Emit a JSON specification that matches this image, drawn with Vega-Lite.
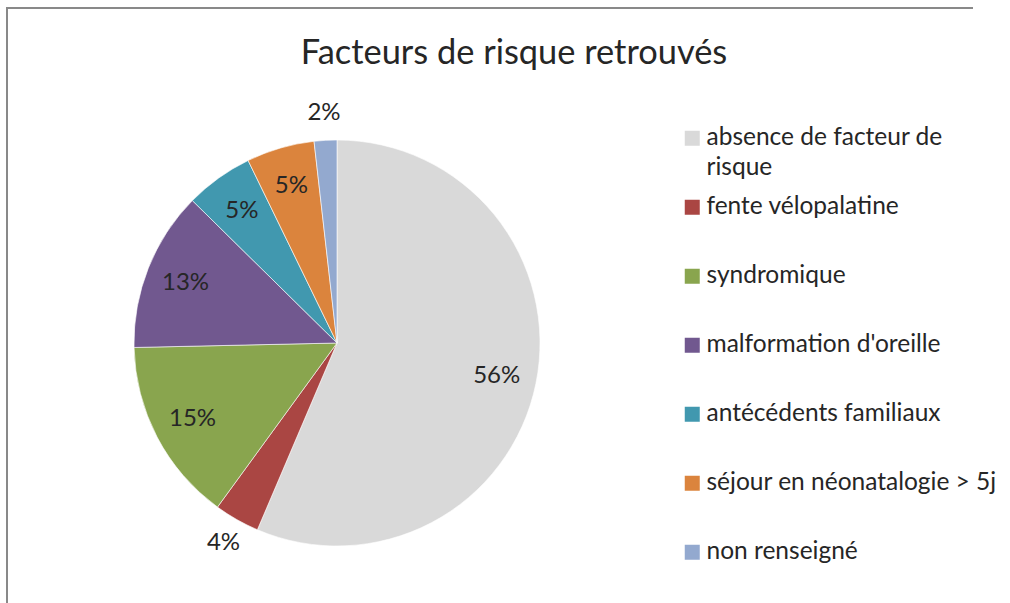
{
  "$schema": "https://vega.github.io/schema/vega-lite/v6.json",
  "width": 660,
  "height": 670,
  "autosize": {"type": "none"},
  "padding": {"left": 7, "top": 8, "right": 343, "bottom": -75},
  "background": "white",
  "view": {"stroke": "#898989", "strokeWidth": 2, "strokeDash": [660, 1330, 670], "fill": "white"},
  "title": {
    "text": "Facteurs de risque retrouvés",
    "font": "Lato",
    "fontSize": 34.4,
    "fontWeight": "normal",
    "color": "#262626",
    "anchor": "middle",
    "frame": "group",
    "baseline": "alphabetic",
    "dx": 177,
    "offset": -91
  },
  "data": {
    "values": [
      {"cat": "absence de facteur de risque", "v": 0.563, "o": 1},
      {"cat": "fente vélopalatine", "v": 0.036, "o": 2},
      {"cat": "syndromique", "v": 0.146, "o": 3},
      {"cat": "malformation d'oreille", "v": 0.127, "o": 4},
      {"cat": "antécédents familiaux", "v": 0.054, "o": 5},
      {"cat": "séjour en néonatalogie > 5j", "v": 0.054, "o": 6},
      {"cat": "non renseigné", "v": 0.018, "o": 7}
    ]
  },
  "encoding": {
    "theta": {"field": "v", "type": "quantitative", "stack": true},
    "order": {"field": "o", "type": "quantitative"}
  },
  "layer": [
    {
      "mark": {"type": "arc", "outerRadius": 203, "stroke": "#ffffff", "strokeWidth": 0.6},
      "encoding": {
        "color": {
          "field": "cat",
          "type": "nominal",
          "scale": {
            "domain": ["absence de facteur de risque", "fente vélopalatine", "syndromique", "malformation d'oreille", "antécédents familiaux", "séjour en néonatalogie > 5j", "non renseigné"],
            "range": ["#d9d9d9", "#aa4643", "#89a54e", "#71588f", "#4198af", "#db843d", "#93a9cf"]
          },
          "legend": {
            "title": null,
            "orient": "none",
            "legendX": 555,
            "legendY": 0,
            "padding": 118,
            "symbolType": "square",
            "symbolSize": 225,
            "symbolStrokeWidth": 0,
            "labelFont": "Lato",
            "labelFontSize": 24.5,
            "labelColor": "#262626",
            "labelOffset": 2,
            "labelLimit": 400,
            "rowPadding": 14,
            "gridAlign": "all",
            "labelExpr": "datum.label == 'absence de facteur de risque' ? ['absence de facteur de', 'risque'] : datum.label"
          }
        }
      }
    },
    {
      "mark": {"type": "text", "radius": 163, "font": "Lato", "fontSize": 24, "color": "#262626"},
      "encoding": {
        "text": {
          "condition": {"test": "datum.v < 0.045", "value": ""},
          "field": "v", "type": "quantitative", "format": ".0%"
        }
      }
    },
    {
      "mark": {"type": "text", "radius": 230, "font": "Lato", "fontSize": 24, "color": "#262626"},
      "encoding": {
        "text": {
          "condition": {"test": "datum.v >= 0.045", "value": ""},
          "field": "v", "type": "quantitative", "format": ".0%"
        }
      }
    }
  ],
  "config": {
    "legend": {"strokeColor": "#898989", "strokeWidth": 2, "strokeDash": [0, 80, 331, 5000]},
    "style": {"guide-label": {"lineHeight": 30}}
  }
}
